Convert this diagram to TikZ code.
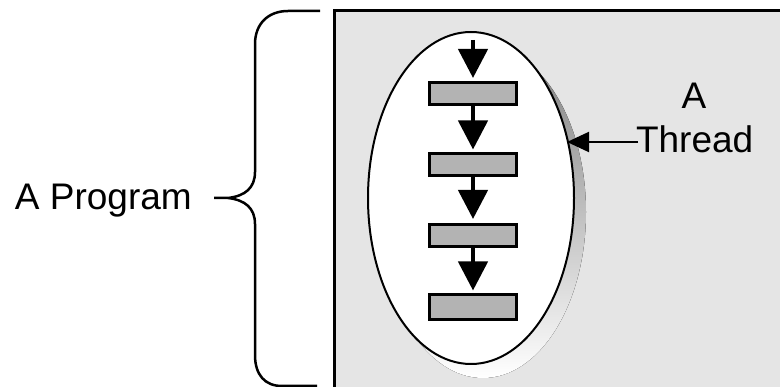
\documentclass[tikz,border=0pt]{standalone}
\usepackage{fontspec}
\setmainfont{Liberation Sans}
\usetikzlibrary{shapes.geometric,arrows.meta}
\definecolor{panel}{HTML}{E5E5E5}
\definecolor{stepfill}{HTML}{B3B3B3}
\definecolor{shade}{HTML}{B8B8B8}
\tikzset{
  label text/.style={inner sep=0pt, outer sep=0pt, font=\fontsize{37}{40}\selectfont},
  stepbox/.style={draw=black, line width=3pt, fill=stepfill, minimum width=87pt,
                  minimum height=22pt, inner sep=0pt, outer sep=0pt},
  flow/.style={line width=4.5pt, -{Triangle[length=29pt 0 0,width=29pt 0 0]}},
  pointer/.style={line width=2pt, -{Triangle[length=22pt 0 0,width=20pt 0 0]}},
}
\begin{document}
\begin{tikzpicture}[x=1pt,y=-1pt]
  \useasboundingbox (0,0) rectangle (780,387);

  % program panel
  \fill[panel] (334,11) rectangle (780,387);
  \draw[line width=3pt] (334.5,387) -- (334.5,11) -- (780,11);

  % brace grouping the program
  \draw[line width=2.5pt]
    (320,11) -- (288,11) .. controls (268,11) and (255,24) .. (255,44)
    -- (255,172) .. controls (255,188) and (245,196) .. (228,198) -- (214,198)
    (228,198) .. controls (245,200) and (255,208) .. (255,224)
    -- (255,355) .. controls (255,375) and (265,386) .. (282,386) -- (317,386);
  \node[label text, anchor=base west] (prog) at (15,210) {A Program};

  % thread outline with shadow
  \fill[shade] (483,212) ellipse [x radius=103, y radius=166];
  \node[ellipse, draw=black, line width=2pt, fill=white, minimum width=206pt,
        minimum height=332pt, inner sep=0pt, outer sep=0pt] (thr) at (471,198) {};

  % steps
  \node[stepbox] (s1) at (473,94) {};
  \node[stepbox] (s2) at (473,164.5) {};
  \node[stepbox] (s3) at (473,236) {};
  \node[stepbox, minimum height=25pt] (s4) at (473,307) {};
  \coordinate (start) at (473,40);

  \draw[flow, shorten >=5pt] (start) -- (s1.north);
  \draw[flow, shorten >=4pt] (s1.south) -- (s2.north);
  \draw[flow, shorten >=6pt] (s2.south) -- (s3.north);
  \draw[flow, shorten >=4pt] (s3.south) -- (s4.north);

  % thread label and pointer
  \node[label text, anchor=base] (a) at (694,109) {A};
  \node[label text, anchor=base west] (thread) at (636,153) {Thread};
  \coordinate (from) at (638,142);
  \coordinate (tip) at (567,142);
  \draw[pointer] (from) -- (tip);
\end{tikzpicture}
\end{document}
